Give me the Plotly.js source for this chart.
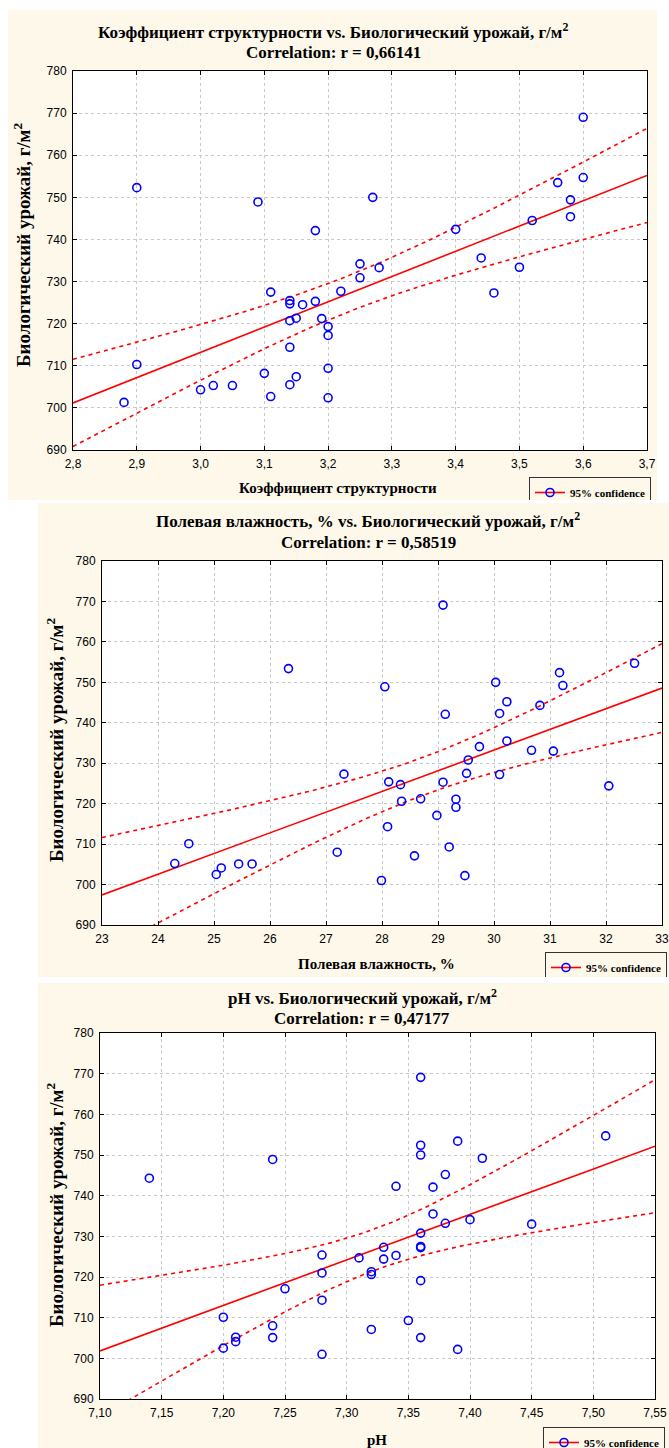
<!DOCTYPE html>
<html><head><meta charset="utf-8">
<script src="https://cdn.plot.ly/plotly-3.0.1.min.js"></script>
<style>
body{margin:0;background:#fff;width:669px;height:1448px;position:relative;overflow:hidden}
.p{position:absolute}
</style></head><body>
<div id="c1" class="p" style="left:8px;top:10px;width:649px;height:490px"></div>
<div id="c2" class="p" style="left:38px;top:503px;width:631px;height:474px"></div>
<div id="c3" class="p" style="left:38px;top:983px;width:631px;height:465px"></div>
<script>
// ---- data ----
const yLabel = "Биологический урожай, г/м<sup>2</sup>";
const legendName = "95% confidence";

const ksName = "Коэффициент структурности";
const ksR = "0,66141";
const ksX = [2.88,2.90,2.90,3.00,3.02,3.05,3.09,3.10,3.11,3.11,3.14,3.14,3.14,3.14,3.14,3.15,3.15,3.16,3.18,3.18,3.19,3.20,3.20,3.20,3.20,3.22,3.25,3.25,3.27,3.28,3.40,3.44,3.46,3.50,3.52,3.56,3.58,3.58,3.60,3.60];
const ksY = [701.3,752.3,710.3,704.3,705.3,705.3,748.9,708.2,727.5,702.7,725.5,724.7,720.7,714.4,705.5,721.3,707.4,724.5,742.1,725.3,721.2,719.3,717.2,709.4,702.4,727.7,734.2,730.9,750.0,733.3,742.4,735.6,727.3,733.4,744.5,753.5,749.4,745.4,769.0,754.7];

const pvName = "Полевая влажность, %";
const pvR = "0,58519";
const pvX = [24.30,24.55,25.04,25.13,25.44,25.68,26.33,27.20,27.32,27.99,28.05,28.10,28.12,28.33,28.35,28.58,28.69,28.98,29.09,29.09,29.13,29.20,29.32,29.32,29.48,29.51,29.54,29.74,30.03,30.10,30.10,30.23,30.23,30.67,30.82,31.06,31.17,31.23,32.05,32.51];
const pvY = [705.2,710.1,702.5,704.1,705.1,705.1,753.4,708.0,727.3,701.0,748.9,714.3,725.4,724.7,720.6,707.1,721.2,717.1,769.1,725.3,742.1,709.3,721.1,719.1,702.2,727.5,730.8,734.1,750.0,742.3,727.2,745.2,735.5,733.2,744.3,733.0,752.4,749.2,724.4,754.7];

const phName = "pH";
const phR = "0,47177";
const phX = [7.14,7.20,7.20,7.21,7.21,7.24,7.24,7.24,7.25,7.28,7.28,7.28,7.28,7.31,7.32,7.32,7.32,7.33,7.33,7.34,7.34,7.35,7.36,7.36,7.36,7.36,7.36,7.36,7.36,7.36,7.37,7.37,7.38,7.38,7.39,7.39,7.40,7.41,7.45,7.51];
const phY = [744.3,710.1,702.5,705.2,704.1,748.9,708.0,705.1,717.1,725.4,721.0,714.3,701.0,724.7,721.3,720.6,707.1,727.3,724.4,742.3,725.3,709.3,769.1,752.4,750.0,730.8,727.5,727.2,719.1,705.1,742.1,735.5,745.2,733.2,753.4,702.2,734.1,749.2,733.0,754.7];

const yRange = [690, 780];

// ---- helpers ----
function fit(xs, ys){
  const n = xs.length;
  const mx = xs.reduce((a,b)=>a+b,0)/n, my = ys.reduce((a,b)=>a+b,0)/n;
  let sxx=0, sxy=0;
  for(let i=0;i<n;i++){ sxx+=(xs[i]-mx)**2; sxy+=(xs[i]-mx)*(ys[i]-my); }
  const b = sxy/sxx, a = my - b*mx;
  let sse=0; for(let i=0;i<n;i++){ sse += (ys[i]-(a+b*xs[i]))**2; }
  const s = Math.sqrt(sse/(n-2));
  return {a,b,s,n,mx,sxx};
}

function panel(id, xs, ys, g){
  const f = fit(xs, ys);
  const t = 2.0244;
  const N = 120, lx=[], ly=[], up=[], lo=[];
  for(let i=0;i<=N;i++){
    const x = g.xr[0] + (g.xr[1]-g.xr[0])*i/N;
    const yh = f.a + f.b*x;
    const h = t*f.s*Math.sqrt(1/f.n + (x-f.mx)**2/f.sxx);
    lx.push(x); ly.push(yh); up.push(yh+h); lo.push(yh-h);
  }
  const W = g.w, H = g.h, m = g.m;
  const pl = g.left + m.l, pr = g.left + W - m.r, pt = g.top + m.t, pb = g.top + H - m.b;
  const px = v => (v - pl)/(pr - pl);
  const py = v => (pb - v)/(pb - pt);
  const red = '#ff0000';
  const mk = {symbol:'circle-open', size:8, color:'#0000ff', line:{width:1.6, color:'#0000ff'}};
  const traces = [
    {x:lx, y:up, mode:'lines', line:{color:red, width:1.6, dash:'4px,4px'}, showlegend:false, hoverinfo:'skip'},
    {x:lx, y:lo, mode:'lines', line:{color:red, width:1.6, dash:'4px,4px'}, showlegend:false, hoverinfo:'skip'},
    {x:lx, y:ly, mode:'lines', line:{color:red, width:1.6}, showlegend:false, hoverinfo:'skip'},
    {x:xs, y:ys, mode:'markers', marker:mk, showlegend:false},
    {x:[null], y:[null], mode:'lines+markers', name:'<b>'+legendName+'</b>', line:{color:red, width:1.6}, marker:mk}
  ];
  const tfont = {family:'Liberation Serif', size:17, color:'#000'};
  const xfont = {family:'Liberation Serif', size:15, color:'#000'};
  const yfont = {family:'Liberation Serif', size:19, color:'#000'};
  const ax = {
    showgrid:true, gridcolor:'#c8c8c8', griddash:'dot', gridwidth:1,
    showline:true, linecolor:'#000', linewidth:1, mirror:'ticks',
    ticks:'inside', ticklen:4, tickcolor:'#000', zeroline:false, fixedrange:true,
    tickfont:{family:'Liberation Sans', size:12, color:'#000'}, ticklabelstandoff:3
  };
  const layout = {
    width:W, height:H, margin:{l:m.l, r:m.r, t:m.t, b:m.b, pad:0},
    paper_bgcolor:'#fdf8ea', plot_bgcolor:'#ffffff',
    separators:', ',
    font:{family:'Liberation Sans', size:12, color:'#000'},
    xaxis:Object.assign({}, ax, {range:g.xr, dtick:g.dx, tick0:g.xr[0], tickformat:g.xf}),
    yaxis:Object.assign({}, ax, {range:yRange, dtick:10, tick0:690}),
    showlegend:true,
    legend:{xref:'paper', yref:'container', x:px(g.lg[0]), y:1-(g.lg[1]-g.top)/H,
      xanchor:'left', yanchor:'top', bgcolor:'#fdf8ea',
      bordercolor:'#333', borderwidth:1, font:{family:'Liberation Serif', size:11, color:'#000'},
      itemwidth:30, tracegroupgap:0},
    annotations:[
      {xref:'paper', yref:'paper', x:px(g.t1[0]), y:py(g.t1[1]), xanchor:'center', yanchor:'middle', showarrow:false,
       text:'<b>'+g.name+' vs. '+yLabel+'</b>', font:tfont},
      {xref:'paper', yref:'paper', x:px(g.t2[0]), y:py(g.t2[1]), xanchor:'center', yanchor:'middle', showarrow:false,
       text:'<b>Correlation: r = '+g.r+'</b>', font:tfont},
      {xref:'paper', yref:'paper', x:px(g.xt[0]), y:py(g.xt[1]), xanchor:'center', yanchor:'middle', showarrow:false,
       text:'<b>'+g.name+'</b>', font:xfont},
      {xref:'paper', yref:'paper', x:px(g.yt[0]), y:py(g.yt[1]), xanchor:'center', yanchor:'middle', showarrow:false,
       textangle:-90, text:'<b>'+yLabel+'</b>', font:yfont}
    ]
  };
  Plotly.newPlot(id, traces, layout, {staticPlot:true, displayModeBar:false});
}

panel('c1', ksX, ksY, {name:ksName, r:ksR, left:8, top:10, w:649, h:490, m:{l:65,r:10,t:61,b:50},
  xr:[2.8,3.7], dx:0.1, xf:'.1f', t1:[333,31], t2:[333,52], xt:[338,488], yt:[22,245], lg:[529,477]});
panel('c2', pvX, pvY, {name:pvName, r:pvR, left:38, top:503, w:631, h:474, m:{l:64,r:7,t:58,b:52},
  xr:[23,33], dx:1, xf:'d', t1:[368,520], t2:[368,543], xt:[376,964], yt:[55,740], lg:[545,952]});
panel('c3', phX, phY, {name:phName, r:phR, left:38, top:983, w:631, h:465, m:{l:62,r:14,t:50,b:49},
  xr:[7.10,7.55], dx:0.05, xf:'.2f', t1:[362,997], t2:[362,1019], xt:[377,1440], yt:[55,1205], lg:[543,1427]});
</script>
</body></html>
